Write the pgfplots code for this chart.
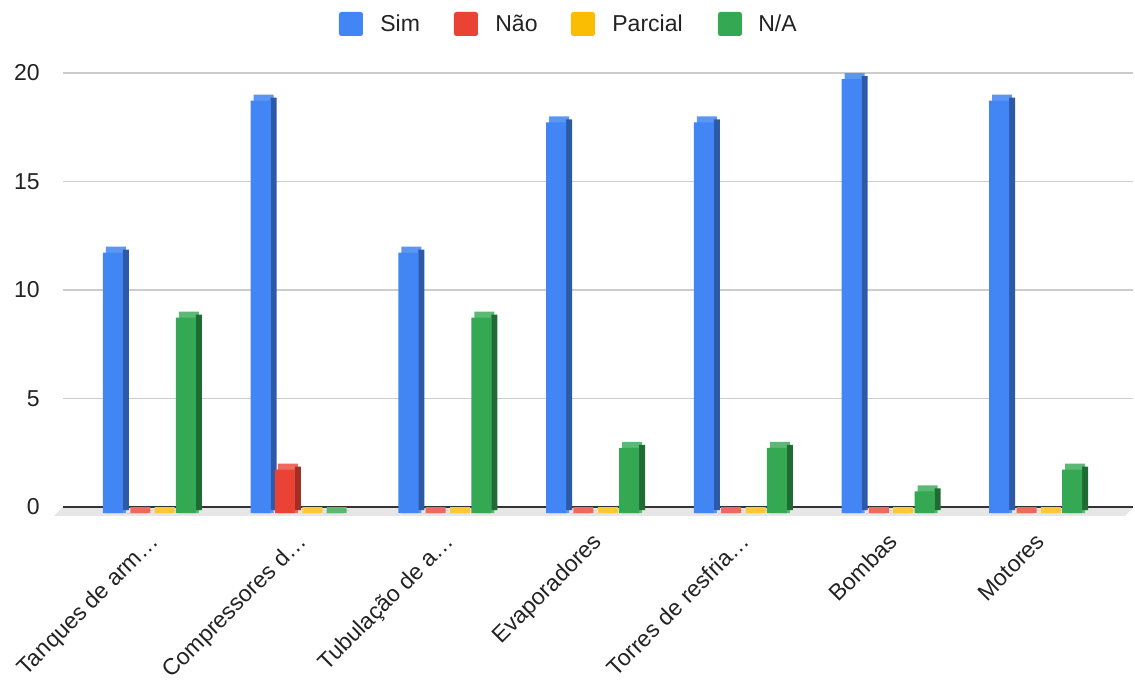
\documentclass[border=0pt]{standalone}
\usepackage{fontspec}
\setmainfont{Liberation Sans}
\usepackage{pgfplots}
\usepackage{pgfplotstable}
\pgfplotsset{compat=1.18}

\definecolor{cblue}{HTML}{4285F4}
\definecolor{cbluetop}{HTML}{5C96F5}
\definecolor{cblueside}{HTML}{2C5AA8}
\definecolor{cred}{HTML}{EA4335}
\definecolor{credtop}{HTML}{EE6A5E}
\definecolor{credside}{HTML}{A32E25}
\definecolor{cyel}{HTML}{FBBC04}
\definecolor{cyeltop}{HTML}{FCC934}
\definecolor{cyelside}{HTML}{B08403}
\definecolor{cgreen}{HTML}{34A853}
\definecolor{cgreentop}{HTML}{5BB974}
\definecolor{cgreenside}{HTML}{1F6B34}
\definecolor{floorgray}{HTML}{E6E6E6}
\definecolor{gridgray}{HTML}{CCCCCC}
\definecolor{zeroline}{HTML}{333333}
\definecolor{txt}{HTML}{222222}

\pgfplotstableread{
x sim nao par na
0 12 0 0 9
1 19 2 0 0
2 12 0 0 9
3 18 0 0 3
4 18 0 0 3
5 20 0 0 1
6 19 0 0 2
}\datatable

\newcommand{\dd}{0.2765}

\pgfplotsset{
  cap/.style={ybar, bar width=10bp, draw=none, forget plot, yshift=-3bp},
  side/.style={ybar, bar width=3bp, draw=none, forget plot, yshift=-1.5bp},
  front/.style={ybar, bar width=10bp, draw=none, forget plot, yshift=-3bp},
}

\begin{document}
\fontsize{11.5bp}{13.8bp}\selectfont
\begin{tikzpicture}
\useasboundingbox (0,0) rectangle (567.5bp,-340bp);
\begin{scope}[x=0.5bp,y=-0.5bp]
\fill[floorgray] (63,507) -- (1134,507) -- (1125,516) -- (54,516) -- cycle;
\fill[cblue, rounded corners=1.2bp] (339,12) rectangle (363,36);
\node[anchor=base west, inner sep=0pt, text=txt] at (380,31.5) {Sim};
\fill[cred, rounded corners=1.2bp] (454,12) rectangle (478,36);
\node[anchor=base west, inner sep=0pt, text=txt] at (495,31.5) {Não};
\fill[cyel, rounded corners=1.2bp] (571,12) rectangle (595,36);
\node[anchor=base west, inner sep=0pt, text=txt] at (612,31.5) {Parcial};
\fill[cgreen, rounded corners=1.2bp] (718,12) rectangle (742,36);
\node[anchor=base west, inner sep=0pt, text=txt] at (758,31.5) {N/A};
\end{scope}
\begin{axis}[
  at={(31.5bp,-253.5bp)}, anchor=south west,
  scale only axis, width=535bp, height=217bp,
  xmin=-0.626, xmax=6.618, ymin=0, ymax=20,
  enlargelimits=false, clip=false,
  axis line style={draw=none}, major tick length=0pt,
  ytick={5,10,15,20},
  extra y ticks={0},
  extra y tick style={grid=major, major grid style={color=zeroline, line width=1bp}},
  ymajorgrids, major grid style={color=gridgray, line width=0.8bp},
  xtick={0,1,2,3,4,5,6},
  xticklabels={Tanques de arm…, Compressores d…, Tubulação de a…, Evaporadores, Torres de resfria…, Bombas, Motores},
  tick label style={font=\fontsize{11.5bp}{13.8bp}\selectfont, text=txt},
  xticklabel style={anchor=base east, inner sep=0pt, xshift=2.25bp, yshift=-18bp, rotate=45},
  yticklabel style={anchor=east, inner sep=0pt, xshift=-11.5bp},
  /pgf/number format/assume math mode=true,
]
% Sim
\addplot[cap, fill=cbluetop, bar shift=-19.75bp] table[x=x, y expr=\thisrow{sim}+\dd] {\datatable};
\addplot[side, fill=cblueside, bar shift=-14.75bp] table[x=x, y=sim] {\datatable};
\addplot[front, fill=cblue, bar shift=-21.25bp] table[x=x, y=sim] {\datatable};
% Nao
\addplot[cap, fill=credtop, bar shift=-7.6bp] table[x=x, y expr=\thisrow{nao}+\dd] {\datatable};
\addplot[side, fill=credside, bar shift=-2.6bp] table[x=x, y=nao] {\datatable};
\addplot[front, fill=cred, bar shift=-9.1bp] table[x=x, y=nao] {\datatable};
% Parcial
\addplot[cap, fill=cyeltop, bar shift=4.6bp] table[x=x, y expr=\thisrow{par}+\dd] {\datatable};
\addplot[side, fill=cyelside, bar shift=9.6bp] table[x=x, y=par] {\datatable};
\addplot[front, fill=cyel, bar shift=3.1bp] table[x=x, y=par] {\datatable};
% N/A
\addplot[cap, fill=cgreentop, bar shift=16.75bp] table[x=x, y expr=\thisrow{na}+\dd] {\datatable};
\addplot[side, fill=cgreenside, bar shift=21.75bp] table[x=x, y=na] {\datatable};
\addplot[front, fill=cgreen, bar shift=15.25bp] table[x=x, y=na] {\datatable};
\end{axis}
\end{tikzpicture}
\end{document}
